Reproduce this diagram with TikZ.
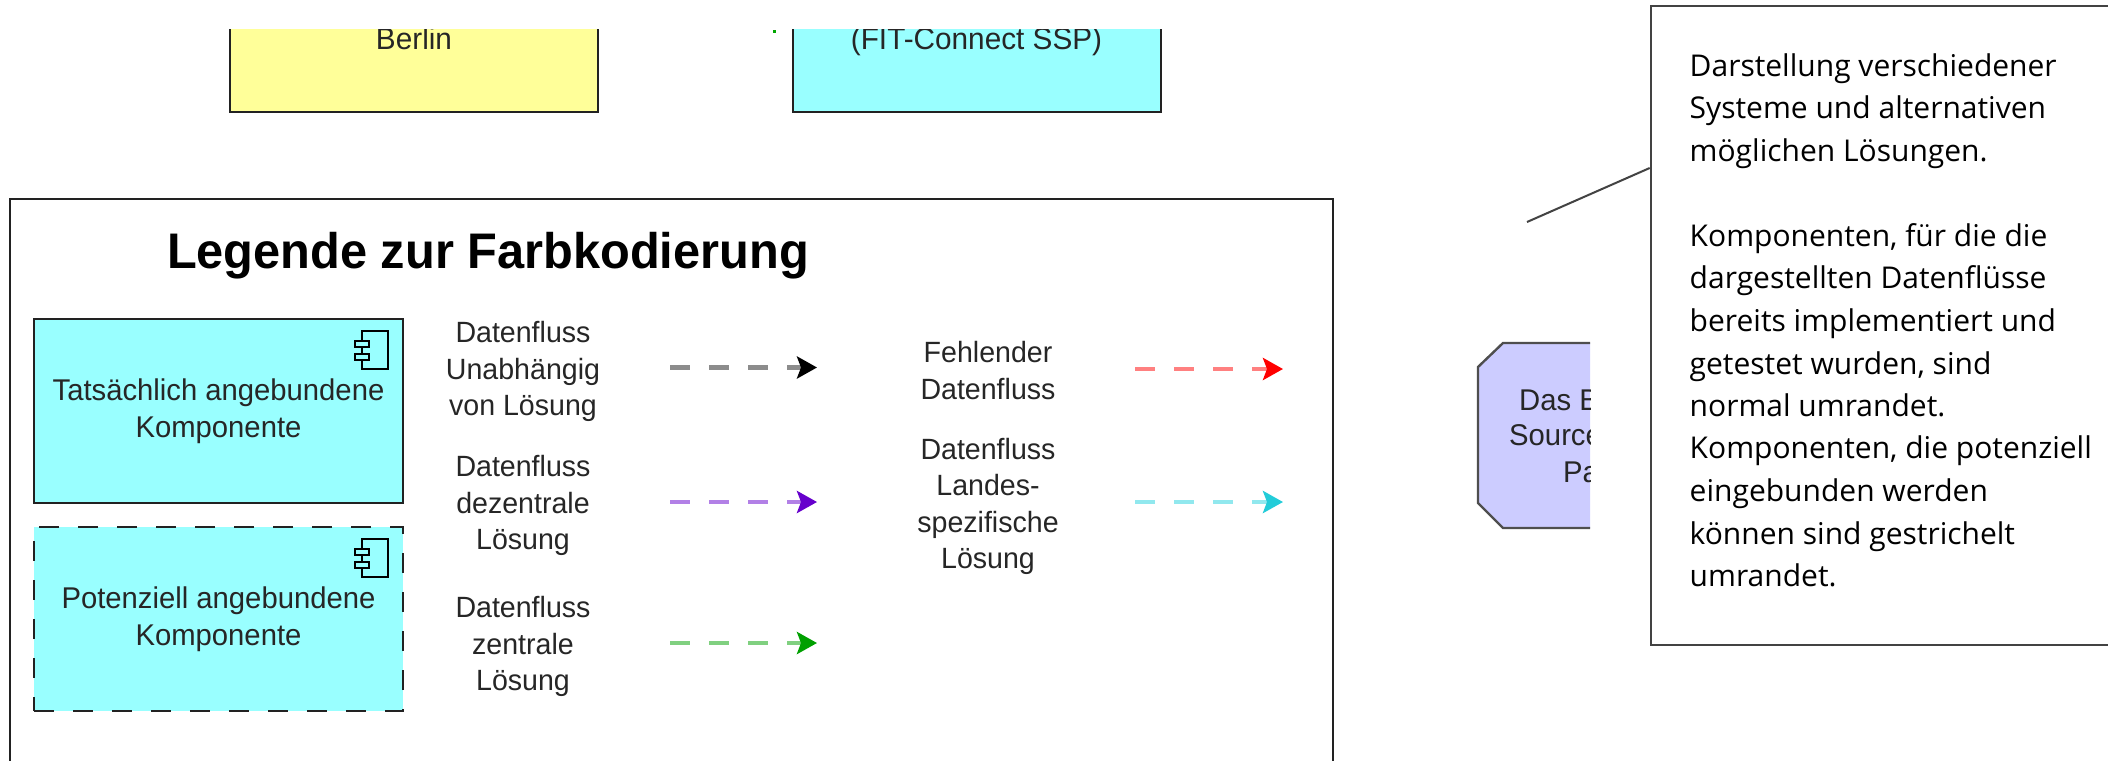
\documentclass[tikz,border=0pt]{standalone}
\usepackage{fontspec}
\setmainfont[FakeStretch=0.975]{Liberation Sans}
\newfontfamily\notefont{Open Sans}
\usetikzlibrary{arrows.meta}
\definecolor{edgec}{HTML}{222222}
\definecolor{cyanf}{HTML}{99FFFF}
\definecolor{yellowf}{HTML}{FFFF99}
\definecolor{violetf}{HTML}{CCCCFF}
\tikzset{
  x=1pt,y=-1pt,
  shapebox/.style={draw=edgec,line width=2.8pt,inner sep=0pt,align=center,font=\fontsize{30}{37}\selectfont,text=black!85},
  compbox/.style={shapebox,fill=cyanf,minimum width=369pt,minimum height=184pt},
  potbox/.style={compbox,dash pattern=on 20pt off 19pt},
  lbl/.style={align=center,inner sep=0pt,font=\fontsize{29.3}{36.5}\selectfont,text=black!85},
  flow/.style n args={2}{draw=#1,line width=4.5pt,dash pattern=on 20pt off 19pt,-{Stealth[length=20pt,width=22pt,inset=4pt,color=#2]}},
  clipped/.style={anchor=base west,inner sep=0pt,font=\fontsize{30}{37}\selectfont,text=black!85},
  iconp/.style={draw=black,line width=2pt}
}
\newcommand{\compicon}[2]{%
  \draw[iconp] (#1+7,#2+9) -- (#1+7,#2) -- (#1+33,#2) -- (#1+33,#2+38) -- (#1+7,#2+38) -- (#1+7,#2+29);
  \draw[iconp] (#1,#2+10) rectangle (#1+14,#2+16);
  \draw[iconp] (#1,#2+23) rectangle (#1+14,#2+29);
  \draw[iconp] (#1+7,#2+16) -- (#1+7,#2+23);
}
\begin{document}
\begin{tikzpicture}
\useasboundingbox (0,0) rectangle (2108,760);
\fill[white] (0,0) rectangle (2108,760);
% clipped boxes at the top
\begin{scope}
\clip (0,30) rectangle (1200,130);
\node[shapebox,fill=yellowf,minimum width=368pt,minimum height=140pt] (berlin) at (414,42) {};
\node[shapebox,fill=cyanf,minimum width=368pt,minimum height=140pt] (fit) at (977,42) {};
\node[anchor=base,inner sep=0pt,font=\fontsize{30.5}{37}\selectfont,text=black!85] (berlintxt) at (414,50) {Berlin};
\node[anchor=base,inner sep=0pt,font=\fontsize{30.5}{37}\selectfont,text=black!85] (fittxt) at (976.5,50) {(FIT-Connect SSP)};
\fill[green!65!black] (773,30) rectangle (775.5,33);
\end{scope}
% legend
\begin{scope}
\clip (0,0) rectangle (2108,760);
\node[draw=edgec,line width=2.8pt,minimum width=1323pt,minimum height=640pt,inner sep=0pt] (legend) at (671.5,519) {};
\end{scope}
\node[anchor=base,inner sep=0pt,font=\fontsize{50}{60}\selectfont\bfseries] (title) at (488,268) {Legende zur Farbkodierung};
\node[compbox] (actual) at (218.5,411) {Tatsächlich angebundene\\Komponente};
\node[potbox] (potential) at (218.5,619) {Potenziell angebundene\\Komponente};
\compicon{355}{331}
\compicon{355}{539}
\node[lbl] (l1) at (523,371.5) {Datenfluss\\Unabhängig\\von Lösung};
\node[lbl] (l2) at (523,505.5) {Datenfluss\\dezentrale\\Lösung};
\node[lbl] (l3) at (523,646.5) {Datenfluss\\zentrale\\Lösung};
\node[lbl] (l4) at (988,370.5) {Fehlender\\Datenfluss};
\node[lbl] (l5) at (988,506.5) {Datenfluss\\Landes-\\spezifische\\Lösung};
\coordinate (a1s) at (670,367.5); \coordinate (a1e) at (817,367.5);
\coordinate (a2s) at (670,502); \coordinate (a2e) at (817,502);
\coordinate (a3s) at (670,643); \coordinate (a3e) at (817,643);
\coordinate (a4s) at (1135,369); \coordinate (a4e) at (1283,369);
\coordinate (a5s) at (1135,502); \coordinate (a5e) at (1283,502);
\definecolor{g1}{HTML}{8C8C8C}\definecolor{p1}{HTML}{B280E6}\definecolor{p2}{HTML}{6600CC}
\definecolor{v1}{HTML}{80D080}\definecolor{v2}{HTML}{00A000}\definecolor{r1}{HTML}{FF8080}
\definecolor{c1}{HTML}{91E8EE}\definecolor{c2}{HTML}{22CCD9}
\draw[flow={g1}{black}] (a1s) -- (a1e);
\draw[flow={p1}{p2}] (a2s) -- (a2e);
\draw[flow={v1}{v2}] (a3s) -- (a3e);
\draw[flow={r1}{red}] (a4s) -- (a4e);
\draw[flow={c1}{c2}] (a5s) -- (a5e);
% clipped octagon
\begin{scope}
\clip (1470,335) rectangle (1590,535);
\draw[draw=edgec!80,line width=2.4pt,fill=violetf] (1503,343) -- (1700,343) -- (1700,528) -- (1503,528) -- (1478,503) -- (1478,367) -- cycle;
\node[clipped] (o1) at (1519,410) {Das B};
\node[clipped] (o2) at (1509,445) {Source};
\node[clipped] (o3) at (1563,482) {Pa};
\end{scope}
% note
\node[draw=edgec!85,line width=2.6pt,minimum width=458pt,minimum height=639pt,inner sep=0pt] (note) at (1880,325.5) {};
\coordinate (notetip) at (1527,222);
\draw[edgec!85,line width=2pt] (notetip) -- (note.west |- 0,168);
\node[anchor=north west,inner sep=0pt,align=left,font=\notefont\fontsize{30}{42.5}\selectfont,text=black] (notetxt) at (1689.5,53.5) {Darstellung verschiedener\\Systeme und alternativen\\möglichen Lösungen.\\[42.5pt]Komponenten, für die die\\dargestellten Datenflüsse\\bereits implementiert und\\getestet wurden, sind\\normal umrandet.\\Komponenten, die potenziell\\eingebunden werden\\können sind gestrichelt\\umrandet.};
\end{tikzpicture}
\end{document}
